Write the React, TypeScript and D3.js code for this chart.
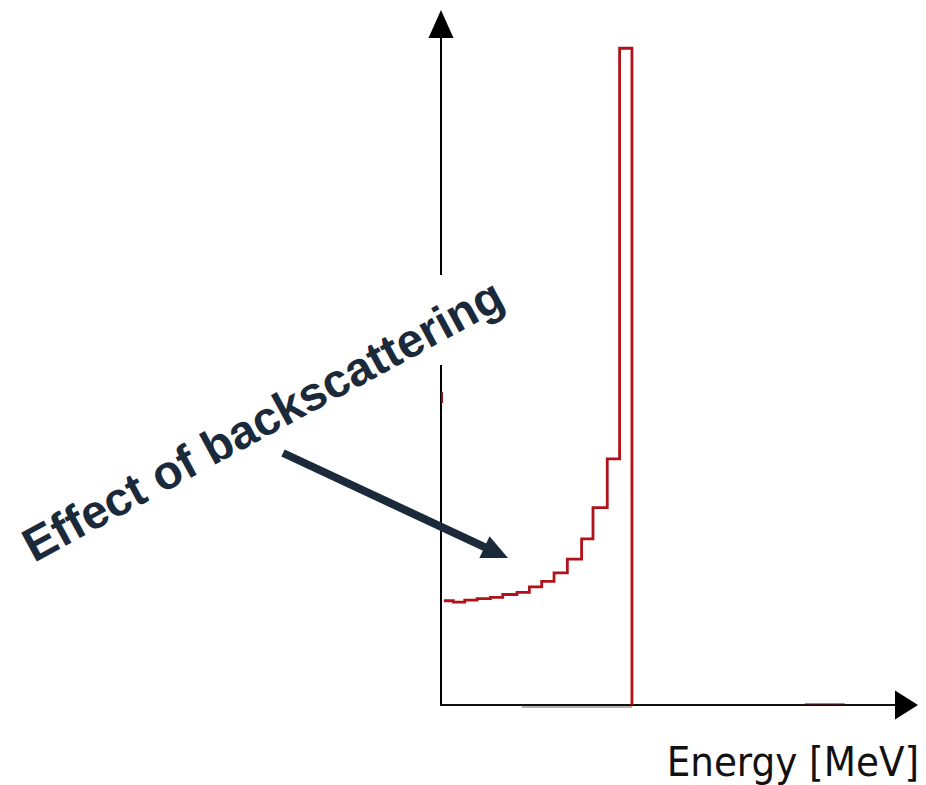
import React from "react";
import * as d3 from "d3";

// bin edges in MeV and counts per bin (arbitrary units)
const binEdges = [0.03, 0.13, 0.25, 0.38, 0.52, 0.65, 0.8, 0.93, 1.06, 1.19, 1.33, 1.48, 1.6, 1.75, 1.88, 2.01];
const counts = [15.0, 14.8, 15.1, 15.3, 15.5, 15.9, 16.2, 17.0, 17.8, 19.0, 21.0, 23.9, 28.4, 35.4, 94.5];

const xLabel = "Energy [MeV]";
const noteText = "Effect of backscattering";

const W = 926;
const H = 785;

const App = () => {
  const x = d3.scaleLinear().domain([0, 5]).range([441, 916]);
  const y = d3.scaleLinear().domain([0, 100]).range([705, 10]);

  const pts: [number, number][] = counts.map((c, i) => [binEdges[i], c]);
  pts.push([binEdges[binEdges.length - 1], counts[counts.length - 1]]);
  pts.push([binEdges[binEdges.length - 1], 0]);

  const stepLine = d3
    .line<[number, number]>()
    .x((d) => x(d[0]))
    .y((d) => y(d[1]))
    .curve(d3.curveStepAfter);

  const red = "#b0121b";
  const navy = "#1b2a3b";

  // annotation arrow
  const a0 = [283, 453];
  const a1 = [508, 558];
  const dx = a1[0] - a0[0];
  const dy = a1[1] - a0[1];
  const len = Math.hypot(dx, dy);
  const ux = dx / len;
  const uy = dy / len;
  const headL = 26;
  const headW = 12;
  const bx = a1[0] - ux * headL;
  const by = a1[1] - uy * headL;

  const x0 = x(0);
  const y0 = y(0);

  return (
    <svg width={W} height={H} style={{ position: "absolute", left: 0, top: 0, background: "#fff" }}>
      {/* axes */}
      <line x1={x0} y1={36} x2={x0} y2={y0 + 1} stroke="#000" strokeWidth={2} />
      <line x1={x0 - 1} y1={y0} x2={896} y2={y0} stroke="#111" strokeWidth={2} />
      <line x1={x(0.85)} y1={y0 + 2} x2={x(2.01)} y2={y0 + 2} stroke="#999" strokeWidth={1.5} />
      <line x1={x(3.83)} y1={y0 - 1} x2={x(4.25)} y2={y0 - 1} stroke="#5a0d10" strokeWidth={1.5} opacity={0.7} />
      <polygon points={`${x0},10 ${x0 - 12.5},38 ${x0 + 12.5},38`} fill="#000" />
      <polygon points={`918,${y0} 895,${y0 - 14.5} 895,${y0 + 14.5}`} fill="#000" />
      <line x1={x0 + 1} y1={392} x2={x0 + 1} y2={403} stroke="#8a1015" strokeWidth={2} />

      {/* histogram */}
      <path d={stepLine(pts) || ""} fill="none" stroke={red} strokeWidth={2.8} />

      {/* gap in the y axis behind the note */}
      <rect x={x0 - 3} y={275} width={6} height={90} fill="#fff" />

      {/* annotation */}
      <text
        transform={`translate(34,563) rotate(-28.5)`}
        fontFamily="'Liberation Sans', Arial, sans-serif"
        fontWeight="bold"
        fontSize={47.5}
        fill={navy}
      >
        {noteText}
      </text>
      <line x1={a0[0]} y1={a0[1]} x2={bx + ux * 2} y2={by + uy * 2} stroke={navy} strokeWidth={8} />
      <polygon
        points={`${a1[0]},${a1[1]} ${bx - uy * headW},${by + ux * headW} ${bx + uy * headW},${by - ux * headW}`}
        fill={navy}
      />

      <text
        x={919}
        y={776}
        textAnchor="end"
        fontFamily="'DejaVu Sans Condensed', 'DejaVu Sans', sans-serif"
        fontSize={41.5}
        fill="#111"
      >
        {xLabel}
      </text>
    </svg>
  );
};

export default App;
